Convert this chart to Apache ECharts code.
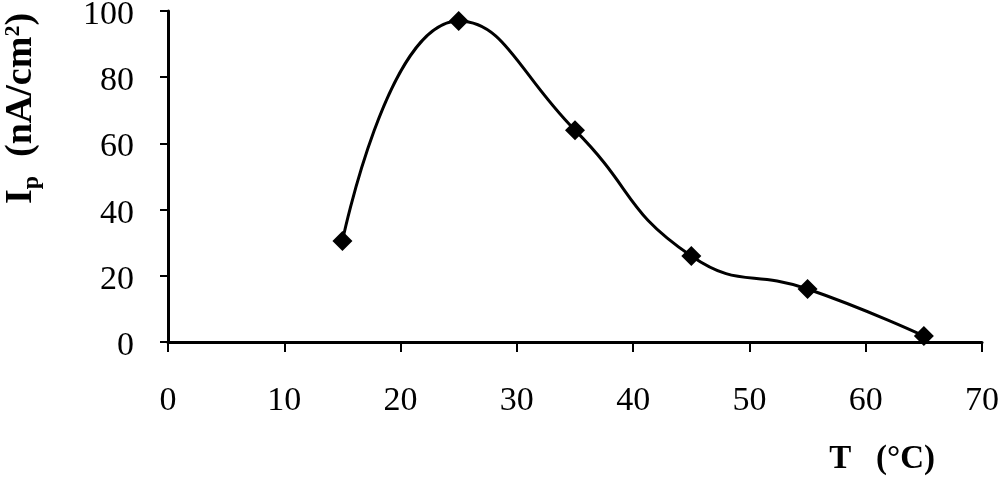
<!DOCTYPE html>
<html>
<head>
<meta charset="utf-8">
<script src="https://cdn.jsdelivr.net/npm/echarts@6/dist/echarts.min.js"></script>
<style>
  html, body { margin: 0; padding: 0; background: #fff; }
  #chart { width: 1000px; height: 486px; }
</style>
</head>
<body>
<div id="chart"></div>
<script>
const temps = [15, 25, 35, 45, 55, 65]
const current = [30.5, 97, 64, 26, 16, 1.8]

const xTitle = 'T   (°C)'
const serif = 'Liberation Serif'

const chart = echarts.init(document.getElementById('chart'), null, { renderer: 'canvas' })

chart.setOption({
  animation: false,
  backgroundColor: '#fff',
  grid: { left: 168, right: 18, top: 11, bottom: 144, outerBoundsMode: 'none', containLabel: false },
  xAxis: {
    type: 'value',
    min: 0,
    max: 70,
    interval: 10,
    splitLine: { show: false },
    axisLine: { onZero: false, lineStyle: { color: '#000', width: 3 } },
    axisTick: { show: true, length: 10, lineStyle: { color: '#000', width: 2 } },
    axisLabel: { color: '#000', fontFamily: serif, fontSize: 34, margin: 42 },
    name: xTitle,
    nameLocation: 'end',
    nameGap: -47,
    nameTextStyle: {
      color: '#000', fontFamily: serif, fontWeight: 'bold', fontSize: 33,
      align: 'right', verticalAlign: 'top', padding: [101, 0, 0, 0],
    },
  },
  yAxis: {
    type: 'value',
    min: 0,
    max: 100,
    interval: 20,
    splitLine: { show: false },
    axisLine: { show: true, lineStyle: { color: '#000', width: 3 } },
    axisTick: { show: true, length: 8, lineStyle: { color: '#000', width: 2 } },
    axisLabel: { color: '#000', fontFamily: serif, fontSize: 34, margin: 34, verticalAlign: 'top', lineHeight: 8 },
    name: '{m|I}{sub|p}{m|  (nA/cm}{sup|2}{m|)}',
    nameLocation: 'middle',
    nameRotate: 90,
    nameGap: 124,
    nameTextStyle: {
      color: '#000', fontFamily: serif, fontWeight: 'bold', fontSize: 38,
      padding: [0, 0, 0, 136],
      rich: {
        m: { fontFamily: serif, fontWeight: 'bold', fontSize: 38, lineHeight: 46, verticalAlign: 'middle' },
        sub: { fontFamily: serif, fontWeight: 'bold', fontSize: 24, lineHeight: 46, verticalAlign: 'bottom' },
        sup: { fontFamily: serif, fontWeight: 'bold', fontSize: 22, lineHeight: 46, verticalAlign: 'top', padding: [4, 0, 0, 0] },
      },
    },
  },
  series: [
    {
      type: 'line',
      data: temps.map((t, i) => [t, current[i]]),
      smooth: 0.5,
      symbol: 'diamond',
      symbolSize: 20,
      itemStyle: { color: '#000' },
      lineStyle: { color: '#000', width: 3 },
    },
  ],
})
</script>
</body>
</html>
